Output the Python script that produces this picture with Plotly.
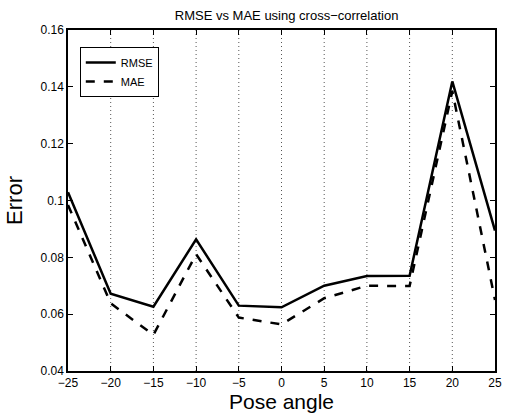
import plotly.graph_objects as go

pose_angle = [-25, -20, -15, -10, -5, 0, 5, 10, 15, 20, 25]
rmse = [0.1029, 0.0672, 0.0626, 0.0863, 0.0630, 0.0624, 0.0700, 0.0734, 0.0735, 0.1419, 0.0894]
mae = [0.0984, 0.0638, 0.0527, 0.0811, 0.0588, 0.0564, 0.0656, 0.0700, 0.0699, 0.1385, 0.0650]
x_ticks = [-25, -20, -15, -10, -5, 0, 5, 10, 15, 20, 25]
y_ticks = [0.04, 0.06, 0.08, 0.1, 0.12, 0.14, 0.16]
y_tick_text = ["0.04", "0.06", "0.08", "0.1", "0.12", "0.14", "0.16"]
x_tick_text = ["\u221225", "\u221220", "\u221215", "\u221210", "\u22125", "0", "5", "10", "15", "20", "25"]

font = "Liberation Sans, Arial, sans-serif"

fig = go.Figure()
fig.add_trace(go.Scatter(x=pose_angle, y=rmse, mode="lines", name="RMSE",
                         line=dict(color="black", width=2.5)))
fig.add_trace(go.Scatter(x=pose_angle, y=mae, mode="lines", name="MAE",
                         line=dict(color="black", width=2.5, dash="dash")))

# dotted vertical grid lines at the inner x ticks
for xv in x_ticks[1:-1]:
    fig.add_shape(type="line", x0=xv, x1=xv, y0=0, y1=1, xref="x", yref="paper",
                  line=dict(color="#555555", width=1, dash="1px,3px"), layer="below")

fig.update_layout(
    width=510, height=419,
    margin=dict(l=68, r=8, t=30, b=48),
    paper_bgcolor="white", plot_bgcolor="white",
    font=dict(family=font, color="black"),
    title=dict(text="RMSE vs MAE using cross\u2212correlation", x=0.562, xanchor="center",
               y=0.964, yanchor="middle", font=dict(size=13, family=font)),
    showlegend=True,
    legend=dict(x=0.0276, y=0.95, xanchor="left", yanchor="top",
                bgcolor="white", bordercolor="black", borderwidth=1,
                font=dict(size=11, family=font), tracegroupgap=0),
    xaxis=dict(range=[-25, 25], tickvals=x_ticks, ticktext=x_tick_text,
               ticks="inside", ticklen=5, tickcolor="black", showgrid=False,
               showline=True, linecolor="black", linewidth=1.5, mirror="ticks",
               zeroline=False, tickfont=dict(size=12),
               title=dict(text="Pose angle", font=dict(size=21), standoff=1)),
    yaxis=dict(range=[0.04, 0.16], tickvals=y_ticks, ticktext=y_tick_text,
               ticks="inside", ticklen=5, tickcolor="black", showgrid=False,
               showline=True, linecolor="black", linewidth=1.5, mirror="ticks",
               zeroline=False, tickfont=dict(size=12),
               title=dict(text="Error", font=dict(size=22), standoff=12)),
)

post = """
document.documentElement.style.margin='0';
document.documentElement.style.padding='0';
document.body.style.margin='0';
document.body.style.padding='0';
document.body.style.overflow='hidden';
"""

fig.write_html("out.html", post_script=post, config={"displayModeBar": False})
